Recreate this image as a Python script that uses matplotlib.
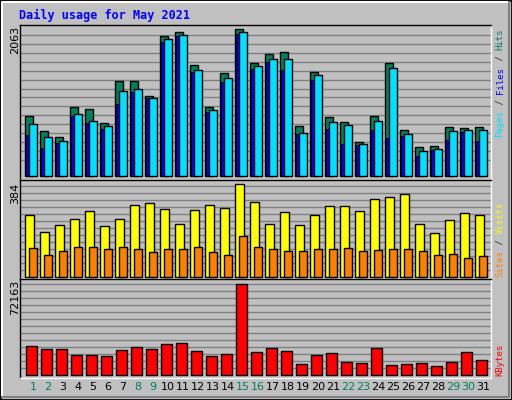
import matplotlib
matplotlib.use("Agg")
import matplotlib.pyplot as plt
import numpy as np

days = list(range(1, 32))
weekend = {1, 2, 8, 9, 15, 16, 22, 23, 29, 30}
hits = [845, 635, 551, 971, 943, 747, 1335, 1335, 1120, 1965, 2021, 1559, 971, 1447, 2063, 1587,
        1713, 1741, 705, 1461, 831, 761, 481, 845, 1587, 649, 411, 425, 691, 677, 691]
files = [733, 551, 495, 873, 775, 705, 1195, 1223, 1097, 1923, 1979, 1489, 929, 1377, 2021, 1545,
         1643, 1643, 607, 1419, 761, 719, 453, 775, 1517, 593, 355, 383, 635, 649, 649]
pages = [579, 397, 467, 845, 747, 663, 1013, 1181, 1097, 1881, 1965, 1461, 901, 1321, 1993, 1503,
         1601, 1489, 593, 1349, 663, 453, 439, 649, 537, 565, 285, 369, 509, 621, 495]
visits = [255, 184, 213, 238, 272, 209, 238, 297, 305, 280, 218, 276, 297, 284, 384, 309,
          218, 268, 213, 255, 292, 292, 272, 322, 330, 342, 218, 180, 234, 263, 255]
sites = [118, 89, 105, 122, 122, 114, 122, 114, 101, 114, 114, 122, 101, 89, 168, 122,
         114, 105, 105, 114, 114, 118, 105, 110, 114, 114, 105, 89, 93, 76, 85]
kbytes = [22389, 20018, 20018, 15277, 15277, 14487, 19228, 21599, 20018, 23969, 24760, 18438,
          14487, 16067, 72163, 17648, 20809, 18438, 8165, 15277, 16858, 9746, 8956, 20809,
          7375, 8165, 8956, 6585, 9746, 17648, 11326]

W, H = 512, 400
fig = plt.figure(figsize=(W/100, H/100), dpi=100)
fig.patch.set_facecolor("#C0C0C0")
fig.add_artist(plt.Rectangle((0, 0), 1, 1, transform=fig.transFigure, fill=False, ec="black", lw=2))
fig.add_artist(plt.Line2D([2/W, 2/W, 1-3/W], [3/H, 1-2/H, 1-2/H], transform=fig.transFigure, color="white", lw=1.5))
fig.add_artist(plt.Line2D([2/W, 1-3/W, 1-3/W], [3/H, 3/H, 1-2/H], transform=fig.transFigure, color="#808080", lw=1.5))

def mkax(top, bot):
    ax = fig.add_axes([20/W, 1-bot/H, (491-20)/W, (bot-top)/H])
    ax.set_facecolor("#C0C0C0")
    ax.set_xlim(0, 31.4)
    ax.set_xticks([]); ax.set_yticks([])
    for s in ax.spines.values():
        s.set_color("black"); s.set_linewidth(1)
    ax.spines["right"].set_color("white"); ax.spines["bottom"].set_color("white")
    return ax

x = np.arange(31)
mono = "DejaVu Sans Mono"

ax1 = mkax(25, 179.5)
ax1.set_ylim(-46, 2124)
for g in np.arange(224, 2100, 126):
    ax1.axhline(g, color="#808080", lw=1, zorder=0)
ax1.bar(x + 0.35, hits, width=0.49, align="edge", color="#00805C", ec="black", lw=1, zorder=2)
ax1.bar(x + 0.40, pages, width=0.2, align="edge", color="#0000FF", ec="black", lw=0.6, zorder=3)
ax1.bar(x + 0.62, files, width=0.49, align="edge", color="#00E0FF", ec="black", lw=1, zorder=4)

ax2 = mkax(179.5, 279.3)
ax2.set_ylim(-11, 402)
for g in np.arange(26, 400, 29):
    ax2.axhline(g, color="#808080", lw=1, zorder=0)
ax2.bar(x + 0.36, visits, width=0.56, align="edge", color="#FFFF00", ec="black", lw=1, zorder=2)
ax2.bar(x + 0.62, sites, width=0.49, align="edge", color="#FF8000", ec="black", lw=1, zorder=3)

ax3 = mkax(279.3, 378)
ax3.set_ylim(-2600, 75600)
for g in np.arange(5500, 75000, 5530):
    ax3.axhline(g, color="#808080", lw=1, zorder=0)
ax3.bar(x + 0.42, kbytes, width=0.69, align="edge", color="#FF0000", ec="black", lw=1, zorder=2)

for i, d in enumerate(days):
    ax3.text(i + 0.86, -4 * 790 - 6500, str(d), ha="center", va="center", fontsize=8,
             family="DejaVu Sans", color="#00805C" if d in weekend else "black")

fig.text(19/W, 1-15/H, "Daily usage for May 2021", color="#0000FF", fontsize=8.5,
         family=mono, weight="bold", va="center", ha="left")
fig.text(15/W, 1-40/H, "2063", rotation=90, fontsize=8, va="center", ha="center")
fig.text(15/W, 1-193/H, "384", rotation=90, fontsize=8, va="center", ha="center")
fig.text(15/W, 1-297/H, "72163", rotation=90, fontsize=8, va="center", ha="center")

FS = 6.5
ADV = 0.602 * FS * 100 / 72

def rlabel(y0, parts):
    y = y0
    for t, c in parts:
        fig.text(500/W, y/H, t, rotation=90, fontsize=FS, family=mono, color=c,
                 va="bottom", ha="center")
        y += ADV * len(t)

rlabel(400-137, [("Pages", "#00E0FF"), (" / ", "#303030"), ("Files", "#0000FF"), (" / ", "#303030"), ("Hits", "#00805C")])
rlabel(400-277, [("Sites", "#FF8000"), (" / ", "#303030"), ("Visits", "#FFFF00")])
rlabel(400-376, [("KBytes", "#FF0000")])

fig.savefig("out.png", dpi=100, facecolor=fig.get_facecolor())
